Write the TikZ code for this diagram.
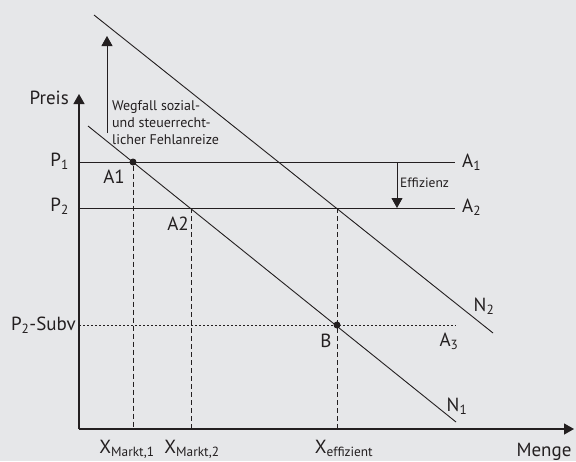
\documentclass[tikz,border=0pt]{standalone}
\usepackage{fontspec}
\setmainfont{PT Sans}
\usetikzlibrary{arrows.meta}
\definecolor{bg}{RGB}{230,231,233}
\definecolor{ink}{RGB}{35,31,32}
\newcommand{\sub}[1]{\textsubscript{#1}}

\begin{document}
\begin{tikzpicture}[x=1pt,y=-1pt,>={Triangle[length=10pt,width=11pt]},font=\fontsize{19}{21}\selectfont,color=ink]
\tikzstyle{ax}=[line width=1.3pt]
\tikzstyle{ln}=[line width=0.9pt]
\tikzstyle{hlp}=[line width=0.9pt,dash pattern=on 5pt off 3pt]
\tikzstyle{dot}=[line width=0.9pt,dash pattern=on 2pt off 2pt]
\tikzstyle{pt}=[circle,fill=ink,inner sep=0pt,minimum size=7pt]
\tikzstyle{lbl}=[inner sep=0pt]
\useasboundingbox[fill=bg] (0,0) rectangle (576,461);
% axes
\coordinate (O) at (79,429); \coordinate (ytop) at (79,94); \coordinate (xend) at (574,429);
\draw[ax,->] (O) -- (ytop); \draw[ax,->] (O) -- (xend);
% demand curves
\coordinate (n1a) at (88,126); \coordinate (n1b) at (456,422);
\coordinate (n2a) at (94,15); \coordinate (n2b) at (493,333);
\draw[ln] (n1a) -- (n1b); \draw[ln] (n2a) -- (n2b);
% supply lines
\coordinate (p1) at (79,162); \coordinate (p1e) at (455,162);
\coordinate (p2) at (79,208); \coordinate (p2e) at (455,208);
\coordinate (p3) at (79,325); \coordinate (p3e) at (456,325);
\draw[ln] (p1) -- (p1e); \draw[ln] (p2) -- (p2e); \draw[dot] (p3) -- (p3e);
% points and drop lines
\node[pt] (a1) at (133,162) {}; \coordinate (a2) at (191,208); \coordinate (c) at (337,208); \node[pt] (b) at (337,325) {};
\coordinate (x1) at (133,429); \coordinate (x2) at (191,429); \coordinate (x3) at (337,429);
\draw[hlp] (a1) -- (x1); \draw[hlp] (a2) -- (x2); \draw[hlp] (c) -- (x3);
% shift arrows
\coordinate (e1) at (397,162); \coordinate (e2) at (397,208);
\draw[ln,->] (e1) -- (e2);
\node[lbl,anchor=base west,font=\fontsize{13.5}{15}\selectfont] (eff) at (400,187) {Effizienz};
\coordinate (w1) at (107,133); \coordinate (w2) at (107,36);
\draw[ln,->] (w1) -- (w2);
\node[lbl,anchor=west,align=left,font=\fontsize{14}{17}\selectfont] (wegf) at (112,123) {Wegfall sozial-\\und steuerrecht-\\licher Fehlanreize};
% labels
\node[lbl,anchor=base east] (preis) at (69,104) {Preis};
\node[lbl,anchor=base east] (lp1) at (69,166) {P\sub{1}};
\node[lbl,anchor=base east] (lp2) at (69,211) {P\sub{2}};
\node[lbl,anchor=base east] (lp3) at (76,330) {P\sub{2}-Subv};
\node[lbl,anchor=base] (la1) at (114,183) {A1}; \node[lbl,anchor=base] (la2) at (178,230) {A2}; \node[lbl,anchor=base] (lb) at (326,347) {B};
\node[lbl,anchor=base west] (s1) at (462,167) {A\sub{1}}; \node[lbl,anchor=base west] (s2) at (462,212) {A\sub{2}};
\node[lbl,anchor=base] (s3) at (449,346) {A\sub{3}};
\node[lbl,anchor=base] (ln1) at (457,411) {N\sub{1}}; \node[lbl,anchor=base] (ln2) at (484,311) {N\sub{2}};
\node[lbl,anchor=base] (lx1) at (127,453) {X\sub{Markt,1}}; \node[lbl,anchor=base] (lx2) at (192,453) {X\sub{Markt,2}};
\node[lbl,anchor=base] (lx3) at (344,453) {X\sub{effizient}};
\node[lbl,anchor=base] (menge) at (544,456) {Menge};
\end{tikzpicture}
\end{document}
